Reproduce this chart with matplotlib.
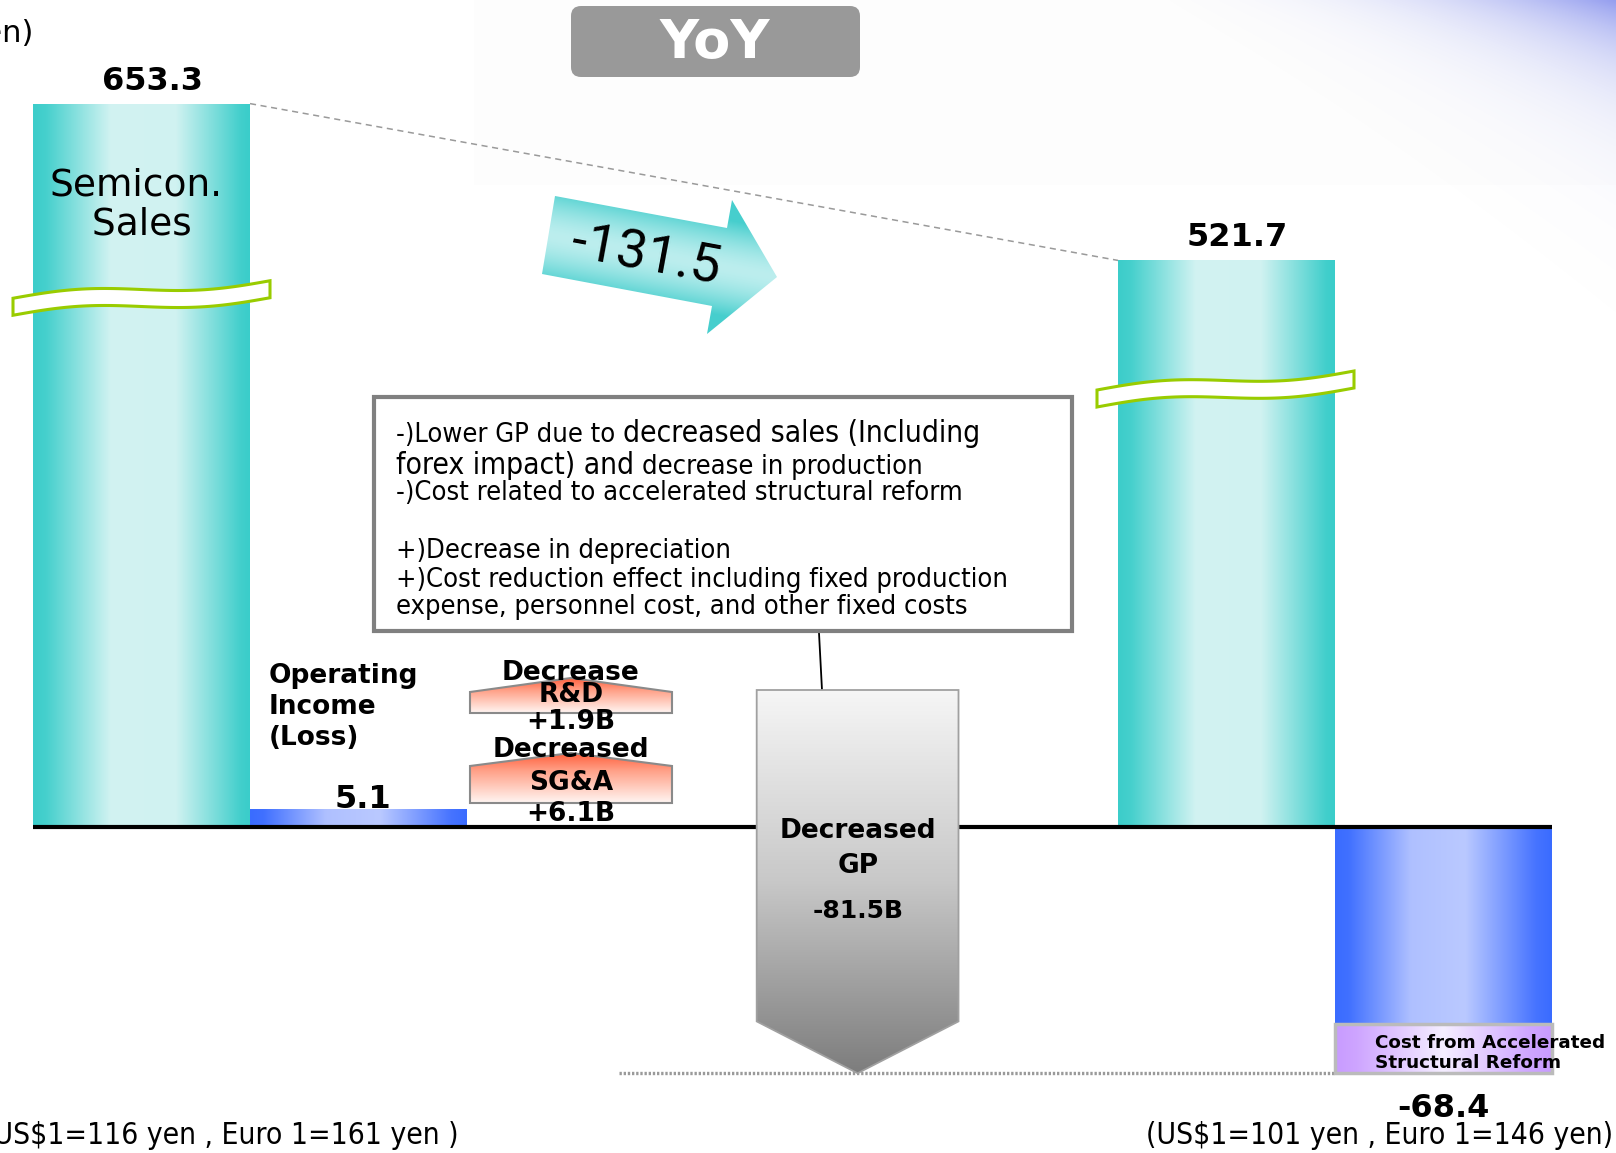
import numpy as np
import matplotlib
matplotlib.use("Agg")
import matplotlib.pyplot as plt
import matplotlib.transforms as mtransforms
from matplotlib.patches import Rectangle, Polygon, FancyBboxPatch

# ---- data ----
sales_values = [653.3, 521.7]          # Semicon. sales, last year / this year
sales_pos = [0, 5]
income_values = [5.1, -68.4]           # operating income (loss)
income_pos = [1, 6]
step_labels = ['Decrease\nR&D\n+1.9B', 'Decreased\nSG&A\n+6.1B']
step_values = [1.9, 6.1]
gp_label = ['Decreased', 'GP', '-81.5B']
gp_value = -81.5
sales_change = -131.5
fx_rates = ['(US$1=116 yen , Euro 1=161 yen )', '(US$1=101 yen , Euro 1=146 yen)']
note_lines = [
    [('-)Lower GP due to ', 'small'), ('decreased sales (Including', 'big')],
    [('forex impact) and ', 'big'), ('decrease in production', 'small')],
    [('-)Cost related to accelerated structural reform', 'small')],
    [],
    [('+)Decrease in depreciation', 'small')],
    [('+)Cost reduction effect including fixed production', 'small')],
    [('expense, personnel cost, and other fixed costs', 'small')],
]

W, H = 1616, 1153
X0, XS = 141.5, 217.0      # pixel x of category 0, pixels per category
Y0, YS = 827.0, 3.6        # pixel y of zero line, pixels per billion yen
BREAK_K, BREAK_OFF = 0.331, 15.3   # broken sales bars


def P(xp, yp):
    return (xp - X0) / XS, (Y0 - yp) / YS


def shown(v):
    return v * BREAK_K - BREAK_OFF


fig = plt.figure(figsize=(W / 100, H / 100), dpi=100)
ax = fig.add_axes([0, 0, 1, 1])
ax.set_axis_off()
ax.set_xlim(P(0, 0)[0], P(W, 0)[0])
ax.set_ylim(P(0, H)[1], P(0, 0)[1])
ax.set_autoscale_on(False)
PX = mtransforms.Affine2D().scale(1 / W, -1 / H).translate(0, 1) + fig.transFigure


def ramp(stops, n=256):
    t = np.linspace(0, 1, n)
    pos = [s[0] for s in stops]
    return np.array([np.interp(t, pos, [s[1][k] for s in stops]) for k in range(3)]).T / 255


def grad_fill(patch, x0, x1, y0, y1, stops, vertical=False, z=2):
    ax.add_patch(patch)
    cols = ramp(stops)
    img = cols[:, None, :] if vertical else cols[None, :, :]
    im = ax.imshow(img, extent=(x0, x1, y0, y1), origin='upper', aspect='auto',
                   interpolation='bilinear', zorder=z)
    im.set_clip_path(patch)
    return im


TEAL = [(0, (60, 205, 202)), (0.06, (70, 208, 205)), (0.36, (210, 243, 242)),
        (0.66, (208, 242, 241)), (0.96, (66, 207, 204)), (1, (58, 205, 202))]
BLUE = [(0, (58, 108, 255)), (0.06, (64, 112, 255)), (0.35, (175, 192, 255)),
        (0.6, (186, 201, 255)), (0.93, (70, 115, 255)), (1, (58, 108, 255))]
PURPLE = [(0, (200, 155, 255)), (0.1, (206, 165, 255)), (0.5, (245, 238, 255)),
          (0.9, (206, 165, 255)), (1, (200, 155, 255))]
GRAY = [(0, (246, 246, 246)), (0.5, (200, 200, 200)), (1, (125, 125, 125))]
ORANGE = [(0, (255, 95, 60)), (0.35, (255, 160, 135)), (1, (255, 246, 243))]
NOTE_FS = {'small': 19.5, 'big': 21.5}
NARROW = dict(family='DejaVu Sans', fontstretch='condensed')

# ---- background decoration ----
ax.add_patch(Rectangle(P(474, 185), (W - 474) / XS, 185 / YS, color='#FDFDFD', lw=0, zorder=0))
gx, gy = np.meshgrid(np.linspace(1100, W, 260), np.linspace(0, 320, 160))
u = np.clip((gx - 1100) / (W - 1100), 0, 1)
alpha = 0.72 * u ** 2.6 * np.exp(-gy / (10 + 50 * u))
bg = np.zeros(gx.shape + (4,))
bg[..., 0], bg[..., 1], bg[..., 2] = 0.43, 0.48, 0.92
bg[..., 3] = alpha
ax.imshow(bg, extent=(P(1100, 0)[0], P(W, 0)[0], P(0, 320)[1], P(0, 0)[1]),
          origin='upper', aspect='auto', interpolation='bilinear', zorder=0)

# ---- sales bars (broken) ----
for xpos, v in zip(sales_pos, sales_values):
    h = shown(v)
    r = Rectangle((xpos - 0.5, 0), 1.0, h, fill=False, lw=0)
    grad_fill(r, xpos - 0.5, xpos + 0.5, 0, h, TEAL)
    ax.text(xpos + 0.05, h + 7 / YS, f'{v:.1f}', ha='center', va='bottom',
            fontsize=23, fontweight='bold', zorder=6)
ax.text(*P(136, 205), 'Semicon.\n Sales', ha='center', va='center', fontsize=27,
        linespacing=1.12, zorder=6)

# connection between the two sales tops
ax.plot([sales_pos[0] + 0.5, sales_pos[1] - 0.5],
        [shown(sales_values[0]), shown(sales_values[1])],
        color='#9A9A9A', lw=1.1, dashes=(4, 3), zorder=1)


def wave_band(xl, xr, ymid, drop, half=8.5):
    t = np.linspace(0, 1, 60)
    xs = xl + (xr - xl) * t
    yc = ymid + drop * (0.5 - t) - 4.5 * np.sin(2 * np.pi * t)
    top = [P(a, b - half) for a, b in zip(xs, yc)]
    bot = [P(a, b + half) for a, b in zip(xs[::-1], yc[::-1])]
    ax.add_patch(Polygon(top + bot, closed=True, facecolor='white',
                         edgecolor='#99CC00', lw=2.2, zorder=3))


wave_band(13, 270, 298, 17.5)
wave_band(1097, 1354, 389, 19)

# ---- operating income bars ----
for xpos, v in zip(income_pos, income_values):
    r = Rectangle((xpos - 0.5, 0), 1.0, v, fill=False, lw=0)
    grad_fill(r, xpos - 0.5, xpos + 0.5, min(0, v), max(0, v), BLUE)
    if v > 0:
        ax.text(xpos + 0.02, v + 1 / YS, f'{v:.1f}', ha='center', va='baseline',
                fontsize=23, fontweight='bold', zorder=6)
    else:
        ax.text(xpos, v - 20 / YS, f'{v:.1f}', ha='center', va='top',
                fontsize=23, fontweight='bold', zorder=6)
ax.text(*P(269, 663), 'Operating\nIncome\n(Loss)', ha='left', va='top',
        fontsize=19, fontweight='bold', linespacing=1.26, zorder=6)

# cost from accelerated structural reform (bottom of the loss bar)
cb_h = 13.6
grad_fill(Rectangle((income_pos[1] - 0.5, income_values[1]), 1.0, cb_h, fill=False, lw=0),
          income_pos[1] - 0.5, income_pos[1] + 0.5, income_values[1],
          income_values[1] + cb_h, PURPLE, z=3)
ax.add_patch(Rectangle((income_pos[1] - 0.5, income_values[1]), 1.0, cb_h,
                       facecolor='none', edgecolor='#BBBBBB', lw=2.5, zorder=4))
ax.text(*P(1375, 1053), 'Cost from Accelerated\nStructural Reform', ha='left', va='center',
        fontsize=13.2, fontweight='bold', linespacing=1.1, zorder=6)

# ---- zero line ----
ax.plot([-0.5, 6.5], [0, 0], color='black', lw=3, zorder=4, solid_capstyle='butt')

# ---- R&D / SG&A steps (roof shapes) ----
roofs = [(678, 692, 713, [673, 695, 722]), (753, 766, 803, [750, 783, 814])]
for (pk, sh, bt, ty), lab in zip(roofs, step_labels):
    xl, xr = 470, 672
    verts = [P(xl, bt), P(xl, sh), P((xl + xr) / 2, pk), P(xr, sh), P(xr, bt)]
    poly = Polygon(verts, closed=True, fill=False, lw=0)
    grad_fill(poly, P(xl, 0)[0], P(xr, 0)[0], P(0, bt)[1], P(0, pk)[1], ORANGE, vertical=True, z=3)
    ax.add_patch(Polygon(verts, closed=True, facecolor='none', edgecolor='#8A8A8A', lw=1.5, zorder=4))
    for s, yy in zip(lab.split('\n'), ty):
        ax.text(*P(571, yy), s, ha='center', va='center', fontsize=19,
                fontweight='bold', zorder=6)

# ---- decreased GP arrow ----
gx0, gx1 = 3.3 - 0.465, 3.3 + 0.465
g_top = P(0, 690)[1]
g_tip = income_values[1]
g_sh = g_tip + 14.4
gverts = [(gx0, g_top), (gx1, g_top), (gx1, g_sh), (3.3, g_tip), (gx0, g_sh)]
grad_fill(Polygon(gverts, closed=True, fill=False, lw=0), gx0, gx1, g_tip, g_top, GRAY,
          vertical=True, z=5)
ax.add_patch(Polygon(gverts, closed=True, facecolor='none', edgecolor='#A0A0A0', lw=1.3, zorder=5))
for s, yy, fs in zip(gp_label, [831, 866, 911], [19, 19, 18]):
    ax.text(*P(858, yy), s, ha='center', va='center', fontsize=fs, fontweight='bold', zorder=6)

# dotted level of this year's result
ax.plot([2.2, income_pos[1] - 0.5], [income_values[1], income_values[1]],
        color='#9A9A9A', lw=2.4, linestyle=(0, (0.7, 0.55)), zorder=1)

# ---- explanation box ----
bx0, by0, bx1, by1 = 374, 397, 1072, 631
ax.add_patch(Rectangle(P(bx0, by1), (bx1 - bx0) / XS, (by1 - by0) / YS,
                       facecolor='white', edgecolor='#808080', lw=3, zorder=5))
ax.plot(*zip(P(819, by1 + 2), P(822, 690)), color='black', lw=1.3, zorder=4)
baselines = [442, 474, 500, 0, 558, 587, 614]
renderer = fig.canvas.get_renderer()
inv = ax.transData.inverted()
for segs, yb in zip(note_lines, baselines):
    xcur = P(396, 0)[0]
    for s, kind in segs:
        t = ax.text(xcur, P(0, yb)[1], s, ha='left', va='baseline', fontsize=NOTE_FS[kind],
                    zorder=6, **NARROW)
        bb = t.get_window_extent(renderer)
        xcur = inv.transform((bb.x1, bb.y0))[0]

# ---- sales change arrow ----
av = [(555, 196), (727, 228), (732, 200), (777, 277), (707, 334), (712, 306), (542, 274)]
apoly = Polygon([P(a, b) for a, b in av], closed=True, fill=False, lw=0)
ax.add_patch(apoly)
mx, my = np.meshgrid(np.linspace(535, 785, 250), np.linspace(190, 340, 150))
ang = np.deg2rad(10.5)
dist = np.abs(-(mx - 548) * np.sin(ang) + (my - 235) * np.cos(ang))
tt = np.clip(dist / 48, 0, 1) ** 1.6
light, teal = np.array([188, 238, 238]) / 255, np.array([70, 206, 205]) / 255
aimg = light[None, None, :] + (teal - light)[None, None, :] * tt[..., None]
im = ax.imshow(aimg, extent=(P(535, 0)[0], P(785, 0)[0], P(0, 340)[1], P(0, 190)[1]),
               origin='upper', aspect='auto', interpolation='bilinear', zorder=4)
im.set_clip_path(apoly)
ax.text(*P(646, 256), f'{sales_change:.1f}', rotation=-10.5, rotation_mode='anchor',
        ha='center', va='center', fontsize=39, family=['Roboto', 'DejaVu Sans'], zorder=6)

# ---- YoY badge, unit, fx notes ----
ax.add_patch(FancyBboxPatch((571, 6), 289, 71, boxstyle='round,pad=0,rounding_size=10',
                            transform=PX, facecolor='#999999', edgecolor='none', zorder=5))
ax.text(715, 43, 'YoY', transform=PX, ha='center', va='center', color='white',
        fontsize=39, fontweight='bold', zorder=6)
ax.text(33, 33, '(Billion yen)', transform=PX, ha='right', va='center', fontsize=22, zorder=6)
ax.text(459, 1144, fx_rates[0], transform=PX, ha='right', va='baseline', fontsize=21.5,
        zorder=6, **NARROW)
ax.text(1613, 1144, fx_rates[1], transform=PX, ha='right', va='baseline', fontsize=21.5,
        zorder=6, **NARROW)

ax.set_xlim(P(0, 0)[0], P(W, 0)[0])
ax.set_ylim(P(0, H)[1], P(0, 0)[1])
fig.savefig('out.png', dpi=100)
